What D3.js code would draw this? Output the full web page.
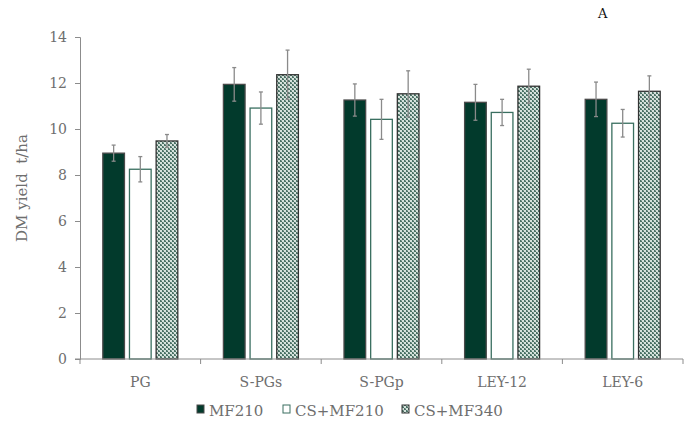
<!DOCTYPE html>
<html>
<head>
<meta charset="utf-8">
<script src="https://cdn.jsdelivr.net/npm/d3@7"></script>
<style>
  body { margin: 0; background: #fff; }
  text { font-family: "DejaVu Serif", "Liberation Serif", serif; }
</style>
</head>
<body>
<div id="chart"></div>
<script>
const categories = ["PG", "S-PGs", "S-PGp", "LEY-12", "LEY-6"];
const series = ["MF210", "CS+MF210", "CS+MF340"];
const mf210 = [8.95, 11.94, 11.26, 11.16, 11.29];
const mf210Err = [0.35, 0.73, 0.70, 0.78, 0.75];
const csMf210 = [8.25, 10.91, 10.42, 10.72, 10.25];
const csMf210Err = [0.55, 0.70, 0.87, 0.57, 0.60];
const csMf340 = [9.48, 12.36, 11.53, 11.86, 11.64];
const csMf340Err = [0.28, 1.07, 1.00, 0.74, 0.67];
const yTicks = [0, 2, 4, 6, 8, 10, 12, 14];

const width = 695, height = 428;
const textColor = "#6e6e6e";
const axisColor = "#8c8c8c";

const values = [mf210, csMf210, csMf340];
const errors = [mf210Err, csMf210Err, csMf340Err];

// one row per bar
const rows = [];
categories.forEach((c, i) => {
    series.forEach((s, j) => {
        rows.push({ cat: c, key: s, value: values[j][i], err: errors[j][i] });
    });
});

const svg = d3.select("#chart")
    .append("svg")
    .attr("width", width)
    .attr("height", height);

// small diagonal checker pattern for CS+MF340
const defs = svg.append("defs");
const pat = defs.append("pattern")
    .attr("id", "hatch")
    .attr("patternUnits", "userSpaceOnUse")
    .attr("width", 4)
    .attr("height", 4);
pat.append("rect").attr("width", 4).attr("height", 4).attr("fill", "#d6e2dc");
pat.append("path")
    .attr("d", "M0,0h2v2h-2z M2,2h2v2h-2z")
    .attr("fill", "#4a7064");
pat.append("path")
    .attr("d", "M1,0h1v1h-1z M3,2h1v1h-1z")
    .attr("fill", "#86a39a");

const x0 = d3.scaleBand()
    .domain(categories)
    .range([80, 683]);

const x1 = d3.scaleBand()
    .domain(series)
    .range([0, x0.bandwidth()])
    .paddingInner(0.1875)
    .paddingOuter(0.855);

const y = d3.scaleLinear()
    .domain([0, 14])
    .range([359, 37]);

const fills = { "MF210": "#023a2c", "CS+MF210": "#ffffff", "CS+MF340": "url(#hatch)" };
const strokes = { "MF210": "#4a4a4a", "CS+MF210": "#3a6f60", "CS+MF340": "#333333" };

// Bars
svg.append("g")
    .selectAll("rect")
    .data(rows)
    .join("rect")
    .attr("x", d => x0(d.cat) + x1(d.key))
    .attr("y", d => y(d.value))
    .attr("width", x1.bandwidth())
    .attr("height", d => y(0) - y(d.value))
    .attr("fill", d => fills[d.key])
    .attr("stroke", d => strokes[d.key])
    .attr("stroke-width", 1.3);

// Error bars
const eb = svg.append("g")
    .attr("stroke", "#8a8a8a")
    .attr("stroke-width", 1.3)
    .selectAll("g")
    .data(rows)
    .join("g")
    .attr("transform", d => `translate(${x0(d.cat) + x1(d.key) + x1.bandwidth() / 2},0)`);
eb.append("line")
    .attr("y1", d => y(d.value + d.err))
    .attr("y2", d => y(d.value - d.err));
eb.append("line")
    .attr("x1", -2).attr("x2", 2)
    .attr("y1", d => y(d.value + d.err))
    .attr("y2", d => y(d.value + d.err));
eb.append("line")
    .attr("x1", -2).attr("x2", 2)
    .attr("y1", d => y(d.value - d.err))
    .attr("y2", d => y(d.value - d.err));

// Y axis
const leftAxis = d3.axisLeft(y).tickValues(yTicks).tickSize(5).tickPadding(8).tickFormat(d3.format("d"));
const gy = svg.append("g")
    .attr("transform", "translate(80,0)")
    .call(leftAxis);
gy.select(".domain").attr("stroke", axisColor);
gy.selectAll(".tick line").attr("stroke", axisColor);
gy.selectAll(".tick text")
    .attr("fill", textColor)
    .style("font-size", "14px");

// X axis line + boundary ticks
const gx = svg.append("g");
gx.append("line")
    .attr("x1", 75).attr("x2", 683)
    .attr("y1", y(0)).attr("y2", y(0))
    .attr("stroke", axisColor);
const bounds = categories.map(c => x0(c)).concat([x0.range()[1]]);
gx.selectAll(".bt")
    .data(bounds)
    .join("line")
    .attr("x1", d => d).attr("x2", d => d)
    .attr("y1", y(0)).attr("y2", y(0) + 5)
    .attr("stroke", axisColor);
gx.selectAll(".cat")
    .data(categories)
    .join("text")
    .attr("x", d => x0(d) + x0.bandwidth() / 2)
    .attr("y", 387)
    .attr("text-anchor", "middle")
    .attr("fill", textColor)
    .style("font-size", "14px")
    .text(d => d);

// Y axis label
svg.append("text")
    .attr("transform", "translate(27,188) rotate(-90)")
    .attr("text-anchor", "middle")
    .attr("fill", textColor)
    .style("font-size", "15px")
    .attr("xml:space", "preserve")
    .text("DM yield  t/ha");

// Panel letter
svg.append("text")
    .attr("x", 598)
    .attr("y", 18)
    .attr("fill", "#111")
    .style("font-size", "13px")
    .text("A");

// Legend
const legendX = [197, 283, 402];
const legend = svg.append("g");
series.forEach((s, i) => {
    legend.append("rect")
        .attr("x", legendX[i])
        .attr("y", 405)
        .attr("width", 7)
        .attr("height", 8)
        .attr("fill", fills[s])
        .attr("stroke", strokes[s])
        .attr("stroke-width", 1);
    legend.append("text")
        .attr("x", legendX[i] + 12)
        .attr("y", 416)
        .attr("fill", textColor)
        .style("font-size", "15px")
        .text(s);
});
</script>
</body>
</html>
